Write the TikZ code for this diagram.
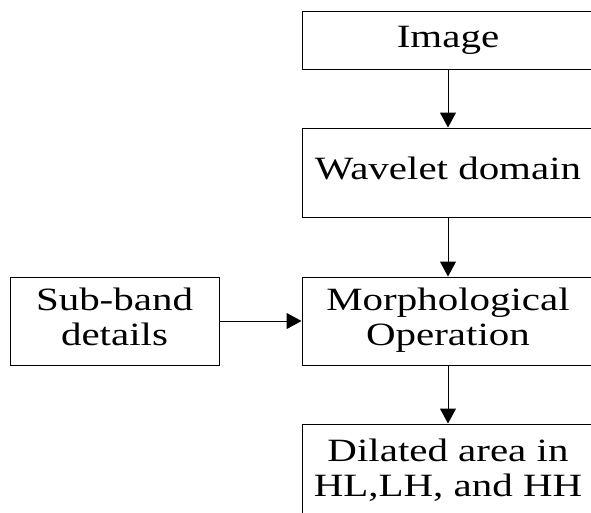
\documentclass[tikz,border=0pt]{standalone}
\usepackage{fontspec}
\setmainfont{Liberation Serif}
\usetikzlibrary{arrows.meta}
% text in the boxes is set wide, as in the drawing
\newcommand{\widetext}[1]{\raisebox{-3pt}{\scalebox{1.26}[1]{\begin{tabular}{@{}c@{}}#1\end{tabular}}}}

\begin{document}
\begin{tikzpicture}[x=1pt, y=-1pt,
	blockbox/.style={draw, rectangle, line width=1pt, inner sep=0pt,
		font=\fontsize{32.5}{35}\selectfont},
	flow/.style={line width=1pt, -{Triangle[length=15pt,width=16pt]}}]
\useasboundingbox (0,0) rectangle (591,512);
\clip (0,0) rectangle (591,512);
% main column
\node [blockbox, minimum width=292pt, minimum height=58pt] (img) at (448,40) {\widetext{Image}};
\node [blockbox, minimum width=292pt, minimum height=89pt] (wave) at (448,172.5) {\widetext{Wavelet domain}};
\node [blockbox, minimum width=292pt, minimum height=88pt] (morph) at (448,321) {\widetext{Morphological\\Operation}};
\node [blockbox, minimum width=292pt, minimum height=95pt] (dil) at (448,471.5) {\widetext{Dilated area in\\HL,LH, and HH}};
% side input
\node [blockbox, minimum width=209pt, minimum height=88pt] (sub) at (114.5,321) {\widetext{Sub-band\\details}};

\draw [flow] (img) -- (wave);
\draw [flow] (wave) -- (morph);
\draw [flow] (morph) -- (dil);
\draw [flow] (sub) -- (morph);
\end{tikzpicture}
\end{document}
